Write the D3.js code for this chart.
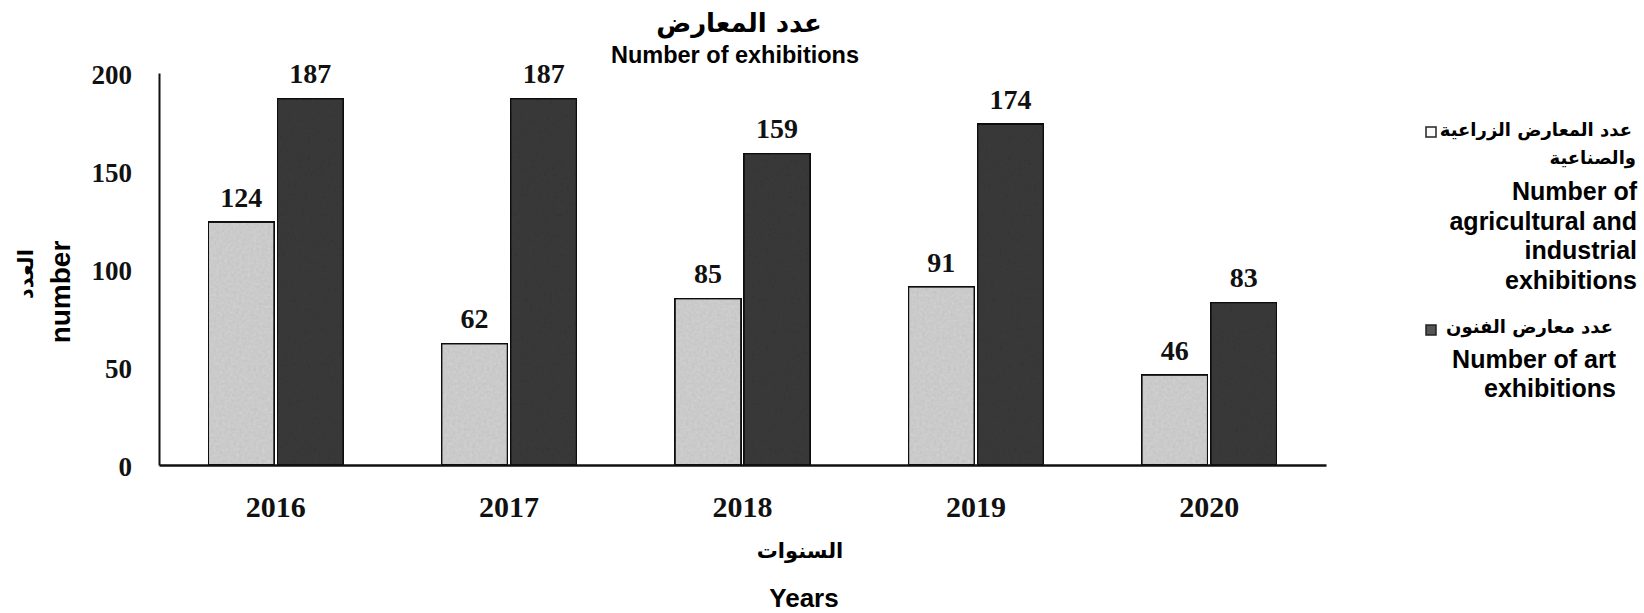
<!DOCTYPE html>
<html>
<head>
<meta charset="utf-8">
<script src="https://cdn.jsdelivr.net/npm/d3@7"></script>
<style>
  body { margin: 0; background: #fff; }
  svg { display: block; }
  .serif { font-family: "Liberation Serif", "DejaVu Serif", serif; font-weight: bold; }
  .sans { font-family: "Liberation Sans", Arial, sans-serif; font-weight: bold; }
  .arabic { font-family: "DejaVu Sans", sans-serif; font-weight: bold; }
</style>
</head>
<body>
<svg id="chart" width="1644" height="613"></svg>
<script>
// data
const years = ["2016", "2017", "2018", "2019", "2020"];
const agriValues = [124, 62, 85, 91, 46];
const artValues = [187, 187, 159, 174, 83];
const yTicks = [0, 50, 100, 150, 200];
const seriesNames = ["agri", "art"];

const svg = d3.select("#chart");

// texture filter so bars look a bit like the scanned print
const defs = svg.append("defs");
const grain = defs.append("filter").attr("id", "grain")
  .attr("x", 0).attr("y", 0).attr("width", "100%").attr("height", "100%");
grain.append("feTurbulence")
  .attr("type", "fractalNoise")
  .attr("baseFrequency", 0.35)
  .attr("numOctaves", 2)
  .attr("seed", 4)
  .attr("result", "noise");
grain.append("feColorMatrix")
  .attr("in", "noise")
  .attr("type", "matrix")
  .attr("values", "0 0 0 0 0  0 0 0 0 0  0 0 0 0 0  0 0 0 0.18 0")
  .attr("result", "speck");
grain.append("feComposite")
  .attr("in", "speck").attr("in2", "SourceGraphic").attr("operator", "atop");

const plotLeft = 159, plotRight = 1326, plotTop = 73, plotBottom = 465;

const x = d3.scaleBand()
  .domain(years)
  .range([plotLeft, plotRight])
  .paddingInner(0.42)
  .paddingOuter(0.21);

const xInner = d3.scaleBand()
  .domain(seriesNames)
  .range([0, x.bandwidth()])
  .paddingInner(0.04);

const y = d3.scaleLinear()
  .domain([0, 200])
  .range([plotBottom, plotTop]);

const fills = { agri: "#d3d3d3", art: "#3a3a3a" };

const rows = years.map((yr, i) => ({
  year: yr,
  vals: [{ key: "agri", v: agriValues[i] }, { key: "art", v: artValues[i] }]
}));

// bars
const groups = svg.append("g").selectAll("g")
  .data(rows)
  .enter()
  .append("g")
  .attr("transform", d => "translate(" + x(d.year) + ",0)");

groups.selectAll("rect")
  .data(d => d.vals)
  .enter()
  .append("rect")
  .attr("x", d => xInner(d.key))
  .attr("y", d => y(d.v))
  .attr("width", xInner.bandwidth())
  .attr("height", d => y(0) - y(d.v))
  .attr("fill", d => fills[d.key])
  .attr("stroke", "#111")
  .attr("stroke-width", 2)
  .attr("filter", "url(#grain)");

// value labels
groups.selectAll("text")
  .data(d => d.vals)
  .enter()
  .append("text")
  .attr("class", "serif")
  .attr("x", d => xInner(d.key) + xInner.bandwidth() / 2)
  .attr("y", d => y(d.v) - 15)
  .attr("text-anchor", "middle")
  .attr("font-size", 28)
  .attr("fill", "#111")
  .text(d => d.v);

// y axis
const yAxis = svg.append("g")
  .attr("transform", "translate(" + plotLeft + ",0)")
  .call(d3.axisLeft(y).tickValues(yTicks).tickSize(0).tickPadding(27));
yAxis.select(".domain").attr("stroke", "#111").attr("stroke-width", 2);
yAxis.selectAll("text")
  .attr("class", "serif")
  .attr("font-size", 27)
  .attr("fill", "#111")
  .attr("dy", "0.4em");

// x axis
const xAxis = svg.append("g")
  .attr("transform", "translate(0," + plotBottom + ")")
  .call(d3.axisBottom(x).tickSize(0).tickPadding(31).tickSizeOuter(0));
xAxis.select(".domain").attr("stroke", "#111").attr("stroke-width", 2.5);
xAxis.selectAll("text")
  .attr("class", "serif")
  .attr("font-size", 30)
  .attr("fill", "#111");

// title
svg.append("text")
  .attr("class", "arabic")
  .attr("x", 739).attr("y", 32)
  .attr("text-anchor", "middle")
  .attr("font-size", 26)
  .text("عدد المعارض");
svg.append("text")
  .attr("class", "sans")
  .attr("x", 735).attr("y", 63)
  .attr("text-anchor", "middle")
  .attr("font-size", 23.5)
  .text("Number of exhibitions");

// y axis title
const yTitle = svg.append("g").attr("transform", "translate(0,292) rotate(-90)");
yTitle.append("text")
  .attr("class", "arabic")
  .attr("x", 18).attr("y", 33)
  .attr("text-anchor", "middle")
  .attr("font-size", 21)
  .text("العدد");
yTitle.append("text")
  .attr("class", "sans")
  .attr("x", 0).attr("y", 70)
  .attr("text-anchor", "middle")
  .attr("font-size", 28)
  .text("number");

// x axis title
svg.append("text")
  .attr("class", "arabic")
  .attr("x", 800).attr("y", 558)
  .attr("text-anchor", "middle")
  .attr("font-size", 21)
  .text("السنوات");
svg.append("text")
  .attr("class", "sans")
  .attr("x", 804).attr("y", 607)
  .attr("text-anchor", "middle")
  .attr("font-size", 26)
  .text("Years");

// legend
const legend = svg.append("g");

function legendArabic(txt, xr, yb) {
  return legend.append("text")
    .attr("class", "arabic")
    .attr("x", xr).attr("y", yb)
    .attr("text-anchor", "end")
    .attr("font-size", 18)
    .text(txt);
}
function legendEnglish(txt, xr, yb) {
  legend.append("text")
    .attr("class", "sans")
    .attr("x", xr).attr("y", yb)
    .attr("text-anchor", "end")
    .attr("font-size", 25)
    .text(txt);
}

legendArabic("عدد المعارض الزراعية", 1632, 136);
legend.append("rect")
  .attr("x", 1426).attr("y", 127).attr("width", 10).attr("height", 10)
  .attr("fill", "#fafafa").attr("stroke", "#222").attr("stroke-width", 1.5);
legendArabic("والصناعية", 1636, 164);
legendEnglish("Number of", 1637, 200);
legendEnglish("agricultural and", 1637, 230);
legendEnglish("industrial", 1637, 259);
legendEnglish("exhibitions", 1637, 289);

legendArabic("عدد معارض الفنون", 1613, 333);
legend.append("rect")
  .attr("x", 1426).attr("y", 325).attr("width", 10).attr("height", 10)
  .attr("fill", "#555").attr("stroke", "#222").attr("stroke-width", 1.5);
legendEnglish("Number of art", 1616, 368);
legendEnglish("exhibitions", 1616, 397);
</script>
</body>
</html>
